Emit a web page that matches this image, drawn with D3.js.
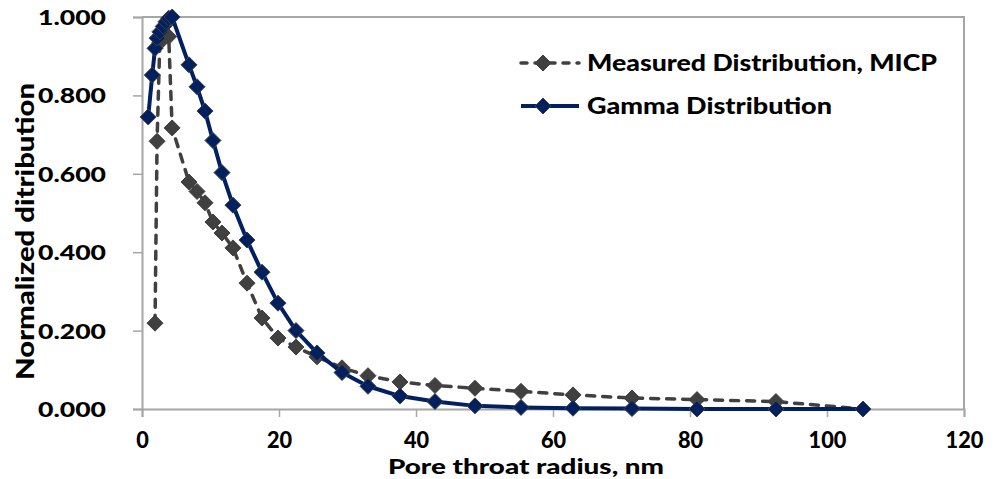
<!DOCTYPE html>
<html>
<head>
<meta charset="utf-8">
<script src="https://cdn.jsdelivr.net/npm/d3@7"></script>
<style>
  html, body { margin: 0; padding: 0; background: #ffffff; }
  svg { display: block; }
  text { font-family: Lato, "Open Sans", sans-serif; font-weight: 900; fill: #000; }
</style>
</head>
<body>
<svg id="chart" width="993" height="479"></svg>
<script>
// Pore throat radius (nm) at which each series is sampled
const gammaRadius = [0.9, 1.5, 1.9, 2.2, 2.6, 3.1, 3.5, 3.9, 4.4, 6.86, 8.03, 9.2, 10.36, 11.68, 13.28, 15.33, 17.52, 19.85, 22.48, 25.55, 29.2, 32.99, 37.66, 42.77, 48.61, 55.33, 62.92, 71.53, 81.02, 92.55, 105.26];
const gammaValues = [0.745, 0.852, 0.92, 0.946, 0.962, 0.976, 0.988, 0.997, 1.0, 0.878, 0.822, 0.76, 0.685, 0.603, 0.52, 0.431, 0.349, 0.27, 0.2, 0.143, 0.093, 0.058, 0.033, 0.019, 0.008, 0.004, 0.002, 0.001, 0.0, 0.0, 0.0];

const micpRadius = [1.9, 2.2, 2.6, 3.1, 3.5, 3.9, 4.4, 6.86, 8.03, 9.2, 10.36, 11.68, 13.28, 15.33, 17.52, 19.85, 22.48, 25.55, 29.2, 32.99, 37.66, 42.77, 48.61, 55.33, 62.92, 71.53, 81.02, 92.55, 105.26];
const micpValues = [0.219, 0.683, 0.935, 0.958, 0.982, 0.95, 0.717, 0.579, 0.555, 0.526, 0.477, 0.449, 0.411, 0.321, 0.232, 0.181, 0.158, 0.133, 0.105, 0.085, 0.069, 0.06, 0.053, 0.045, 0.036, 0.028, 0.024, 0.019, 0.0];

const xTicks = [0, 20, 40, 60, 80, 100, 120];
const yTicks = [0, 0.2, 0.4, 0.6, 0.8, 1.0];

const seriesNames = ["Measured Distribution, MICP", "Gamma Distribution"];

const svg = d3.select("#chart");
const plot = { left: 142, right: 964, top: 17, bottom: 409 };

const x = d3.scaleLinear().domain([0, 120]).range([plot.left, plot.right]);
const y = d3.scaleLinear().domain([0, 1]).range([plot.bottom, plot.top]);

const axisColor = "#a6a6a6";
const micpColor = "#404040";
const gammaColor = "#002060";

// Plot area frame (top and right edges)
svg.append("path")
  .attr("d", `M${plot.left},${plot.top}H${plot.right}V${plot.bottom}`)
  .attr("fill", "none").attr("stroke", axisColor).attr("stroke-width", 2);

// Y axis
const yAxis = svg.append("g")
  .attr("transform", `translate(${plot.left},0)`)
  .call(d3.axisLeft(y).tickValues(yTicks).tickFormat(d3.format(".3f")).tickSize(9).tickPadding(27));
// X axis
const xAxis = svg.append("g")
  .attr("transform", `translate(0,${plot.bottom})`)
  .call(d3.axisBottom(x).tickValues(xTicks).tickFormat(d3.format("d")).tickSize(8).tickPadding(15));

[yAxis, xAxis].forEach(g => {
  g.select(".domain").attr("stroke", axisColor).attr("stroke-width", 2);
  g.selectAll(".tick line").attr("stroke", axisColor).attr("stroke-width", 1.5);
  g.selectAll(".tick text")
    .attr("font-family", "Lato, sans-serif").attr("font-weight", 900)
    .attr("fill", "#000");
});
yAxis.selectAll(".tick text")
  .attr("font-size", 21).attr("dy", "0.36em")
  .attr("textLength", 68).attr("lengthAdjust", "spacingAndGlyphs");
xAxis.selectAll(".tick text")
  .attr("font-size", 22)
  .attr("textLength", d => String(d).length * 12.6)
  .attr("lengthAdjust", "spacingAndGlyphs");

// Axis titles
svg.append("text")
  .attr("x", 526).attr("y", 474)
  .attr("text-anchor", "middle").attr("font-size", 21)
  .attr("textLength", 276).attr("lengthAdjust", "spacingAndGlyphs")
  .text("Pore throat radius, nm");
svg.append("text")
  .attr("transform", "translate(34,231.5) rotate(-90)")
  .attr("text-anchor", "middle").attr("font-size", 24)
  .attr("textLength", 297).attr("lengthAdjust", "spacingAndGlyphs")
  .text("Normalized ditribution");

const diamond = r => `M0,${-r}L${r},0L0,${r}L${-r},0Z`;

function drawSeries(xs, ys, color, dashed) {
  const pts = xs.map((d, i) => [d, ys[i]]);
  const line = d3.line().x(d => x(d[0])).y(d => y(d[1]));
  svg.append("path")
    .datum(pts)
    .attr("d", line)
    .attr("fill", "none")
    .attr("stroke", color)
    .attr("stroke-width", dashed ? 3.5 : 4)
    .attr("stroke-linecap", dashed ? "round" : "butt")
    .attr("stroke-linejoin", "round")
    .attr("stroke-dasharray", dashed ? "8,8" : null);
  svg.append("g").selectAll("path")
    .data(pts)
    .join("path")
    .attr("transform", d => `translate(${x(d[0])},${y(d[1])})`)
    .attr("d", diamond(8))
    .attr("fill", color)
    .attr("stroke", "#404040")
    .attr("stroke-width", 1);
}

drawSeries(micpRadius, micpValues, micpColor, true);
drawSeries(gammaRadius, gammaValues, gammaColor, false);

// Legend
const legend = svg.append("g");
const legendRows = [
  { name: seriesNames[0], color: micpColor, dashed: true, y: 63, width: 350 },
  { name: seriesNames[1], color: gammaColor, dashed: false, y: 106, width: 245 }
];
legendRows.forEach(r => {
  legend.append("line")
    .attr("x1", 521).attr("x2", 579).attr("y1", r.y).attr("y2", r.y)
    .attr("stroke", r.color).attr("stroke-width", r.dashed ? 3.5 : 4)
    .attr("stroke-linecap", r.dashed ? "round" : "butt")
    .attr("stroke-dasharray", r.dashed ? "6,8" : null);
  legend.append("path")
    .attr("transform", `translate(543,${r.y})`)
    .attr("d", diamond(8))
    .attr("fill", r.color).attr("stroke", "#404040").attr("stroke-width", 1);
  legend.append("text")
    .attr("x", 587).attr("y", r.y + 8)
    .attr("font-size", 23)
    .attr("textLength", r.width).attr("lengthAdjust", "spacingAndGlyphs")
    .text(r.name);
});
</script>
</body>
</html>
